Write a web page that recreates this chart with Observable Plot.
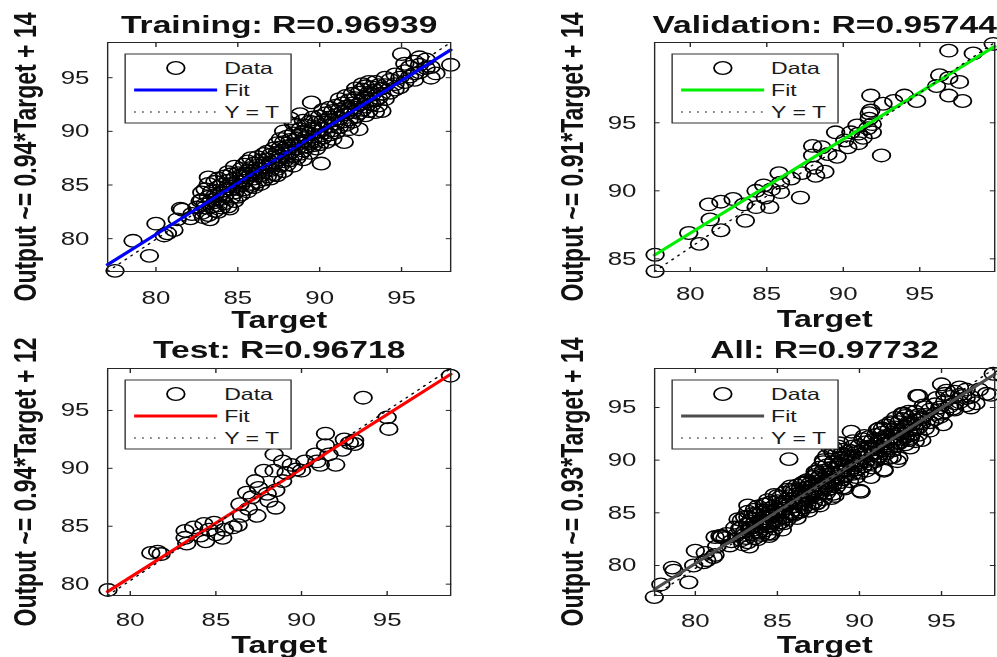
<!DOCTYPE html>
<html><head><meta charset="utf-8">
<script src="https://cdn.jsdelivr.net/npm/d3@7"></script>
<script src="https://cdn.jsdelivr.net/npm/@observablehq/plot@0.6"></script>
<style>
html,body{margin:0;padding:0;background:#fff;}
#stage{position:relative;width:712.15px;height:657px;transform:scaleX(1.4);transform-origin:0 0;}
#stage svg{position:absolute;overflow:visible;}
</style></head><body><div id="stage"></div>
<script>
// ---------- data (Target, Output) ----------
const titles = ["Training: R=0.96939", "Validation: R=0.95744", "Test: R=0.96718", "All: R=0.97732"];
const yLabels = ["Output ~= 0.94*Target + 14", "Output ~= 0.91*Target + 14", "Output ~= 0.94*Target + 12", "Output ~= 0.93*Target + 14"];
const xLabel = "Target";
const legendLabels = ["Data", "Fit", "Y = T"];
const xTicks = [80, 85, 90, 95];
const yTicksTop = [80, 85, 90, 95];
const yTicksVal = [85, 90, 95];
const fitColors = ["#0000ff", "#00ee00", "#ff0000", "#4d4d4d"];
// fitted line [slope, intercept] as drawn in each panel
const fitTrain = [0.955, 4.0];
const fitVal = [0.6896, 31.72];
const fitTest = [0.937, 5.63];
const fitAll = [0.985, 1.39];
// axis limits
const domTrain = {x: [77.05, 98.0], y: [76.94, 98.28]};
const domVal = {x: [77.67, 99.9], y: [84.07, 100.9]};
const domTest = {x: [78.68, 98.71], y: [79.02, 98.62]};
const domAll = {x: [77.52, 98.24], y: [77.15, 98.7]};

const trainData = [
[77.5,77.0],[78.6,79.8],[79.6,78.4],[80.0,81.4],[80.5,80.3],[80.7,80.5],[81.1,80.8],[81.3,81.8],[81.5,82.8],[81.6,82.7],[82.1,81.9],[82.2,82.3],[82.5,82.9],[82.7,83.5],[82.9,82.0],[83.3,81.8],[83.2,85.7],
[82.8,82.4],[82.8,83.6],[82.8,84.3],[83.0,82.9],[83.0,83.2],[83.0,84.6],[83.2,82.2],[83.2,83.9],[83.2,85.1],
[83.4,83.0],[83.4,84.4],[83.4,83.6],[83.6,82.6],[83.6,84.0],[83.6,85.3],[83.6,83.4],
[83.8,83.1],[83.8,84.8],[83.8,82.5],[83.8,85.6],[84.0,83.7],[84.0,84.2],[84.0,85.0],[84.0,82.9],
[84.2,84.5],[84.2,83.3],[84.2,85.8],[84.2,84.0],[84.4,83.0],[84.4,84.9],[84.4,85.4],[84.4,86.2],[84.5,82.8],
[84.6,83.8],[84.6,84.6],[84.6,85.1],[84.6,86.0],[84.8,84.3],[84.8,85.6],[84.8,83.5],[84.8,86.7],
[85.0,84.8],[85.0,85.3],[85.0,86.1],[85.0,83.9],[85.2,84.1],[85.2,85.9],[85.2,86.5],[85.2,85.0],
[85.4,85.4],[85.4,84.6],[85.4,86.9],[85.4,86.0],[85.6,84.4],[85.6,85.7],[85.6,86.3],[85.6,87.2],
[85.8,85.1],[85.8,86.0],[85.8,84.9],[85.8,87.5],[85.8,86.6],[86.0,85.6],[86.0,86.3],[86.0,84.8],[86.0,87.0],
[86.2,85.3],[86.2,86.8],[86.2,86.1],[86.2,87.6],[86.4,85.9],[86.4,86.5],[86.4,85.1],[86.4,87.3],
[86.6,86.2],[86.6,87.0],[86.6,85.5],[86.6,87.9],[86.8,85.8],[86.8,86.7],[86.8,87.4],[86.8,88.1],
[87.0,86.4],[87.0,87.1],[87.0,85.6],[87.0,87.8],[87.2,86.0],[87.2,86.9],[87.2,87.6],[87.2,88.4],
[87.4,87.3],[87.4,86.5],[87.4,88.0],[87.4,88.9],[87.4,85.9],[87.6,86.8],[87.6,87.7],[87.6,88.5],[87.6,89.3],
[87.8,87.2],[87.8,88.2],[87.8,86.3],[87.8,89.0],[87.8,90.0],[88.0,87.6],[88.0,88.6],[88.0,89.5],[88.0,86.9],[88.0,88.1],
[88.2,88.0],[88.2,87.3],[88.2,89.2],[88.2,91.2],[88.4,87.7],[88.4,88.8],[88.4,89.8],[88.4,86.8],[88.4,90.7],
[88.6,88.4],[88.6,89.3],[88.6,87.5],[88.6,90.6],[88.8,91.6],[88.8,88.9],[88.8,87.9],[88.8,89.7],[88.8,90.2],
[89.0,88.2],[89.0,89.1],[89.0,90.0],[89.0,87.4],[89.0,91.0],[89.2,89.5],[89.2,88.6],[89.2,90.5],[89.2,89.0],
[89.4,88.9],[89.4,89.8],[89.4,90.9],[89.4,88.0],[89.5,92.7],[89.6,89.3],[89.6,90.3],[89.6,88.7],[89.6,91.3],
[89.8,90.0],[89.8,89.1],[89.8,90.8],[89.8,88.4],[90.0,89.6],[90.0,90.5],[90.0,91.4],[90.0,88.8],[90.1,87.0],
[90.2,90.2],[90.2,89.4],[90.2,91.0],[90.2,92.0],[90.4,89.9],[90.4,90.8],[90.4,91.7],[90.4,89.0],
[90.6,90.5],[90.6,91.3],[90.6,89.7],[90.6,92.2],[90.8,91.0],[90.8,90.1],[90.8,91.9],[90.8,89.3],
[91.0,90.7],[91.0,91.5],[91.0,92.4],[91.0,89.9],[91.2,91.2],[91.2,90.4],[91.2,92.0],[91.2,93.0],
[91.4,90.9],[91.4,91.8],[91.5,89.0],[91.4,92.6],[91.6,91.6],[91.6,92.3],[91.6,90.6],[91.6,93.3],
[91.8,92.0],[91.8,91.1],[91.8,92.9],[91.8,90.2],[92.0,91.8],[92.0,92.6],[92.0,93.5],[92.0,90.9],
[92.2,92.2],[92.2,91.4],[92.2,93.1],[92.2,94.0],[92.4,92.5],[92.4,90.2],[92.4,93.6],[92.4,91.7],
[92.6,92.9],[92.6,92.0],[92.6,93.9],[92.6,94.4],[92.8,93.2],[92.8,92.3],[92.8,94.2],[92.8,91.5],
[93.0,92.8],[93.0,93.6],[93.0,94.6],[93.0,91.9],[93.2,93.4],[93.2,92.5],[93.2,94.1],
[93.4,93.8],[93.4,92.9],[93.4,94.6],[93.4,91.8],[93.6,93.1],[93.6,94.3],[93.6,92.4],
[93.8,93.5],[93.8,94.0],[93.8,91.9],[94.0,94.3],[94.0,93.0],[94.0,95.0],[94.3,93.6],[94.3,94.8],
[94.6,94.4],[94.6,95.3],[94.6,93.9],[94.9,95.0],[94.9,94.1],[95.0,97.2],[95.2,95.6],[95.2,94.6],[95.2,96.3],
[95.5,96.0],[95.5,95.1],[95.8,96.5],[95.8,95.4],[95.8,94.8],[96.1,96.2],[96.1,95.5],[96.1,96.9],
[96.5,95.9],[96.5,96.7],[96.8,95.0],[96.8,96.0],[97.1,95.4],[98.0,96.2]
];

const valData = [
[77.7,84.1],[77.7,85.3],[79.9,86.9],[80.6,86.1],[81.2,89.0],[81.3,87.9],[82.0,87.1],[82.0,89.2],[82.8,89.4],
[83.5,89.0],[83.6,87.8],[84.3,90.0],[84.3,88.8],[84.8,90.4],[84.9,89.5],[85.2,88.8],[85.3,90.1],[85.8,91.3],
[85.9,90.6],[85.9,89.9],[86.6,90.9],[87.2,89.5],[87.3,91.3],[88.0,93.3],[88.0,92.6],[88.1,91.7],[88.2,91.1],
[88.6,93.2],[88.8,91.4],[89.0,92.7],[89.5,94.3],[89.6,92.5],[90.1,93.7],[90.3,93.2],[90.5,94.3],[90.9,94.8],
[91.0,93.5],[91.0,94.2],[91.3,93.9],[91.6,94.6],[91.7,95.7],[91.7,95.3],[91.8,95.9],[91.8,97.0],[91.9,94.9],
[91.9,94.3],[92.5,92.6],[92.6,96.4],[93.3,96.6],[94.0,97.0],[94.8,96.6],[96.1,97.7],[96.3,98.5],[96.9,97.0],
[96.9,98.3],[96.9,100.3],[97.6,98.0],[97.8,96.6],[98.5,100.1],[99.8,100.8]
];

const testData = [
[78.7,79.5],[81.2,82.7],[81.6,82.8],[81.8,82.6],[83.2,84.6],[83.2,84.0],[83.3,83.5],[83.7,84.9],[84.1,84.2],
[84.3,85.2],[84.4,83.7],[84.6,84.7],[84.9,85.3],[85.0,84.3],[85.4,84.0],[85.5,84.7],[86.0,84.9],[86.4,86.9],
[86.3,85.1],[86.5,85.9],[86.8,87.9],[86.9,86.5],[87.1,87.5],[87.3,88.9],[87.4,85.9],[87.5,88.3],[87.8,89.8],
[88.0,87.8],[88.1,87.2],[88.4,91.2],[88.4,89.8],[88.5,88.1],[88.5,86.6],[88.9,90.6],[88.9,88.9],[89.1,89.6],
[89.4,90.3],[89.7,89.9],[90.0,89.8],[90.2,90.6],[90.8,91.2],[90.9,90.6],[91.1,90.3],[91.4,93.0],[91.4,92.0],
[91.6,91.2],[92.0,90.3],[92.4,91.6],[92.5,92.5],[92.8,92.2],[93.1,92.1],[93.1,92.4],[93.6,96.1],[95.0,94.4],
[95.1,93.4],[98.7,98.0]
];

// validation cases as they appear in the "All" panel
const allValData = [
[77.9,78.2],[79.9,80.0],[80.6,81.2],[81.2,81.0],[81.9,83.0],[82.4,83.6],[82.6,84.4],[83.1,82.6],[83.5,84.9],
[83.9,83.2],[84.3,85.8],[84.6,83.0],[85.0,86.6],[85.3,83.4],[85.7,90.1],[85.9,87.2],[86.2,84.5],[86.5,87.8],
[86.9,85.2],[87.3,88.6],[87.6,85.7],[88.0,90.4],[88.3,86.4],[88.7,91.3],[89.1,87.3],[89.6,91.8],[90.05,87.1],
[90.3,92.3],[90.7,88.4],[91.1,92.9],[91.5,89.1],[91.9,93.6],[92.3,89.9],[92.7,94.4],[93.1,91.2],[93.5,96.1],
[93.9,95.2],[94.3,92.8],[94.7,95.9],[95.3,96.6],[95.7,94.9],[96.3,96.1],[96.5,95.2],[97.3,96.7],[97.75,96.3],
[98.15,98.2]
];
const allData = trainData.concat(testData, allValData);

// ---------- layout (unstretched px; the stage is stretched by 1.4 horizontally) ----------
const FONT = "'Liberation Sans', Arial, Helvetica, sans-serif";
const panels = [
  {data: trainData, dom: domTrain, fit: fitTrain, yTicks: yTicksTop, left: 0, top: 0, ml: 76.4, fw: 245, mt: 42, fh: 229, xPad: 19, tGap: 10, xlGap: 56},
  {data: valData, dom: domVal, fit: fitVal, yTicks: yTicksVal, left: 356, top: 0, ml: 111.1, fw: 242.9, mt: 42, fh: 229, xPad: 15, tGap: 10, xlGap: 55},
  {data: testData, dom: domTest, fit: fitTest, yTicks: yTicksTop, left: 0, top: 327, ml: 76.4, fw: 245, mt: 41, fh: 227, xPad: 17, tGap: 11, xlGap: 57},
  {data: allData, dom: domAll, fit: fitAll, yTicks: yTicksTop, left: 356, top: 327, ml: 111.1, fw: 242.9, mt: 41, fh: 227, xPad: 18, tGap: 11, xlGap: 57}
];

const stage = document.getElementById("stage");
panels.forEach((p, i) => {
  const W = 356, H = 330;
  const [x0, x1] = p.dom.x, [y0, y1] = p.dom.y;
  const fitLine = [[x0, p.fit[0] * x0 + p.fit[1]], [x1, p.fit[0] * x1 + p.fit[1]]];
  const idLine = [[x0, y0], [x1, y1]];
  const svg = Plot.plot({
    width: W, height: H,
    marginLeft: p.ml, marginRight: W - p.ml - p.fw, marginTop: p.mt, marginBottom: H - p.mt - p.fh,
    style: {fontFamily: FONT, fontSize: "18.5px", background: "transparent", overflow: "visible", color: "#1a1a1a"},
    x: {domain: p.dom.x}, y: {domain: p.dom.y},
    marks: [
      Plot.axisX({anchor: "bottom", ticks: xTicks, tickSize: -4, tickPadding: p.xPad + 4, label: null, fontSize: 18.5, stroke: "#262626"}),
      Plot.axisX({anchor: "top", ticks: xTicks, tickSize: -4, tickFormat: () => "", label: null, stroke: "#262626"}),
      Plot.axisY({anchor: "left", ticks: p.yTicks, tickSize: -4, tickPadding: 17, label: null, fontSize: 18.5, stroke: "#262626"}),
      Plot.axisY({anchor: "right", ticks: p.yTicks, tickSize: -4, tickFormat: () => "", label: null, stroke: "#262626"}),
      Plot.dot(p.data, {x: d => d[0], y: d => d[1], r: 6.3, stroke: "black", strokeWidth: 1.3, fill: "none"}),
      Plot.line(fitLine, {x: d => d[0], y: d => d[1], stroke: fitColors[i], strokeWidth: 2.8}),
      Plot.line(idLine, {x: d => d[0], y: d => d[1], stroke: "black", strokeWidth: 1.2, strokeDasharray: "1.2,4.5"}),
      Plot.frame({stroke: "#262626", strokeWidth: 1}),
      Plot.text([titles[i]], {text: d => d, frameAnchor: "top", textAnchor: "middle", dy: -p.tGap, lineAnchor: "bottom", fontSize: 24, fontWeight: "bold", fill: "#111"}),
      Plot.text([xLabel], {text: d => d, frameAnchor: "bottom", textAnchor: "middle", dy: p.xlGap, lineAnchor: "bottom", fontSize: 23, fontWeight: "bold", fill: "#111"}),
      Plot.text([yLabels[i]], {text: d => d, frameAnchor: "left", textAnchor: "middle", lineAnchor: "middle", dx: -58.5, rotate: -90, fontSize: 23, fontWeight: "bold", fill: "#111"})
    ]
  });
  svg.style.left = p.left + "px";
  svg.style.top = p.top + "px";
  // legend box
  const g = d3.select(svg).append("g")
    .attr("transform", `translate(${p.ml + 13},${p.mt + 12})`)
    .attr("font-family", FONT).attr("font-size", 16.5).attr("fill", "#1a1a1a");
  g.append("rect").attr("width", 118.5).attr("height", 69).attr("fill", "white").attr("stroke", "#333").attr("stroke-width", 1);
  g.append("circle").attr("cx", 36.2).attr("cy", 14).attr("r", 6.3).attr("fill", "none").attr("stroke", "black").attr("stroke-width", 1.3);
  g.append("line").attr("x1", 6.4).attr("x2", 65.7).attr("y1", 36).attr("y2", 36).attr("stroke", fitColors[i]).attr("stroke-width", 2.8);
  g.append("line").attr("x1", 6.4).attr("x2", 65.7).attr("y1", 58).attr("y2", 58).attr("stroke", "black").attr("stroke-width", 1.2).attr("stroke-dasharray", "1.2,4.5");
  [14, 36, 58].forEach((cy, k) => {
    g.append("text").attr("x", 70.7).attr("y", cy).attr("dy", "0.36em").attr("text-anchor", "start").text(legendLabels[k]);
  });
  stage.appendChild(svg);
});
</script>
</body></html>
